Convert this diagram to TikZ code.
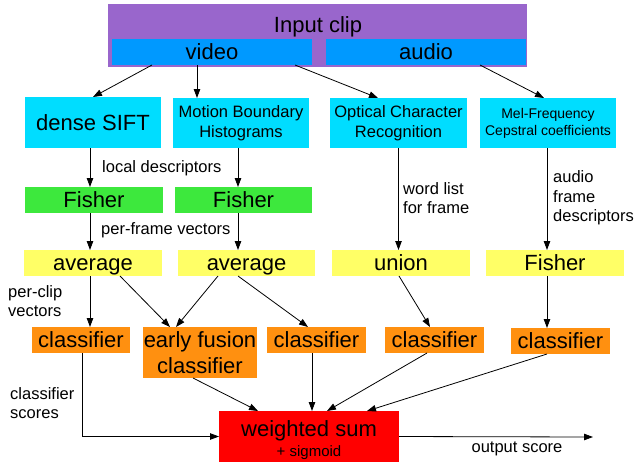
\documentclass[tikz,border=0pt]{standalone}
\usepackage{fontspec}
\setmainfont{Liberation Sans}
\usetikzlibrary{arrows.meta,calc}
\definecolor{cpurple}{HTML}{9966CC}
\definecolor{cblue}{HTML}{0099FF}
\definecolor{ccyan}{HTML}{00DDFF}
\definecolor{cgreen}{HTML}{3DE83D}
\definecolor{cyellow}{HTML}{FFFF66}
\definecolor{corange}{HTML}{FF9010}
\definecolor{cred}{HTML}{FF0000}
\tikzset{
  mbox/.style={inner sep=0pt, outer sep=0pt, align=center, font=\fontsize{22}{25.5}\selectfont},
  box/.style={inner sep=0pt, outer sep=0pt, font=\fontsize{22}{25.5}\selectfont, text height=15.8pt, text depth=0pt},
  midbox/.style={mbox, font=\fontsize{16.5}{20}\selectfont},
  smallbox/.style={mbox, font=\fontsize{14}{17}\selectfont},
  lab/.style={inner sep=0pt, align=left, font=\fontsize{16.5}{19.5}\selectfont},
  arr/.style={-{Triangle[length=9pt,width=6.5pt]}, line width=0.8pt},
}
\begin{document}
\begin{tikzpicture}[x=1pt,y=-1pt]
\useasboundingbox (0,0) rectangle (636,464);
% top
\node[box, fill=cpurple, minimum width=419, minimum height=63] (clip) at (317.5,35.5) {};
\node[box] (title) at (318,25) {Input clip};
\node[box, fill=cblue, minimum width=200, minimum height=26] (video) at (212,52) {video};
\node[box, fill=cblue, minimum width=200, minimum height=26] (audio) at (426,52) {audio};
% row 2
\node[box, fill=ccyan, minimum width=136, minimum height=51] (sift) at (93,122.5) {dense SIFT};
\node[midbox, fill=ccyan, minimum width=136, minimum height=50] (mbh) at (241,123) {Motion Boundary\\Histograms};
\node[midbox, fill=ccyan, minimum width=137, minimum height=50] (ocr) at (398.5,123) {Optical Character\\Recognition};
\node[smallbox, fill=ccyan, minimum width=136, minimum height=50] (mfcc) at (548,123) {Mel-Frequency\\Cepstral coefficients};
% row 3
\node[box, fill=cgreen, minimum width=138, minimum height=26] (fisher1) at (94,200) {Fisher};
\node[box, fill=cgreen, minimum width=137, minimum height=26] (fisher2) at (243.5,200) {Fisher};
% row 4
\node[box, fill=cyellow, minimum width=138, minimum height=26] (avg1) at (93,263) {average};
\node[box, fill=cyellow, minimum width=137, minimum height=26] (avg2) at (246.5,263) {average};
\node[box, fill=cyellow, minimum width=138, minimum height=26] (union) at (401,263) {union};
\node[box, fill=cyellow, minimum width=138, minimum height=26] (fisher3) at (555,263) {Fisher};
% row 5
\node[box, fill=corange, minimum width=98, minimum height=26] (cls1) at (81,340) {classifier};
\node[mbox, fill=corange, minimum width=114, minimum height=51] (early) at (200,352.5) {early fusion\\classifier};
\node[box, fill=corange, minimum width=99, minimum height=26] (cls3) at (316.5,340) {classifier};
\node[box, fill=corange, minimum width=99, minimum height=26] (cls4) at (434.5,340) {classifier};
\node[box, fill=corange, minimum width=99, minimum height=26] (cls5) at (560.5,341) {classifier};
% sum
\node[box, fill=cred, minimum width=180, minimum height=51] (sum) at (309,436.5) {};
\node[box] (sumtext) at (309,429) {weighted sum};
\node[inner sep=0pt, font=\fontsize{15}{17}\selectfont, text height=10.7pt, text depth=0pt] (sigtext) at (309,451.5) {+ sigmoid};
\coordinate (out) at (593,437);
% labels
\node[lab, anchor=west] (l1) at (102,168) {local descriptors};
\node[lab, anchor=west] (l2) at (101,230) {per-frame vectors};
\node[lab, anchor=west] (l3) at (403,198) {word list\\for frame};
\node[lab, anchor=west] (l4) at (553,198) {audio\\frame\\descriptors};
\node[lab, anchor=west] (l5) at (8,301) {per-clip\\vectors};
\node[lab, anchor=west] (l6) at (10,403) {classifier\\scores};
\node[lab] (l7) at (517,449) {output score};
% arrows
\draw[arr] ([xshift=-60]video.south) -- (sift.north);
\draw[arr] ([xshift=-15]video.south) -- ([xshift=-15]video.south |- mbh.north);
\draw[arr] ([xshift=83]video.south) -- ([xshift=-20.5]ocr.north);
\draw[arr] ([xshift=54]audio.south) -- ([xshift=-4]mfcc.north);
\draw[arr] ([xshift=-3]sift.south) -- ([xshift=-3]sift.south |- fisher1.north);
\draw[arr] ([xshift=-3]mbh.south) -- ([xshift=-3]mbh.south |- fisher2.north);
\draw[arr] ([xshift=-4]fisher1.south) -- ([xshift=-4]fisher1.south |- avg1.north);
\draw[arr] ([xshift=-5.5]fisher2.south) -- ([xshift=-5.5]fisher2.south |- avg2.north);
\draw[arr] (ocr.south) -- (ocr.south |- union.north);
\draw[arr] ([xshift=-1]mfcc.south) -- ([xshift=-1]mfcc.south |- fisher3.north);
\draw[arr] ([xshift=-3]avg1.south) -- ([xshift=-3]avg1.south |- cls1.north);
\draw[arr] ([xshift=27]avg1.south) -- ([xshift=-30]early.north);
\draw[arr] ([xshift=-28.5]avg2.south) -- ([xshift=-24]early.north);
\draw[arr] ([xshift=-8.5]avg2.south) -- ([xshift=-8.5]cls3.north);
\draw[arr] ([xshift=-2]union.south) -- ([xshift=-4.5]cls4.north);
\draw[arr] ([xshift=-8]fisher3.south) -- ([xshift=-8]fisher3.south |- cls5.north);
\draw[arr] ([xshift=1]cls1.south) |- (sum.west);
\draw[arr] ([xshift=-7]early.south) -- ([xshift=-51]sum.north);
\draw[arr] ([xshift=-4.5]cls3.south) -- ([xshift=-4.5]cls3.south |- sum.north);
\draw[arr] ([xshift=-7.5]cls4.south) -- ([xshift=18]sum.north);
\draw[arr] ([xshift=-13.5]cls5.south) -- ([xshift=58]sum.north);
\draw[arr] (sum.east) -- (out);
\end{tikzpicture}
\end{document}
